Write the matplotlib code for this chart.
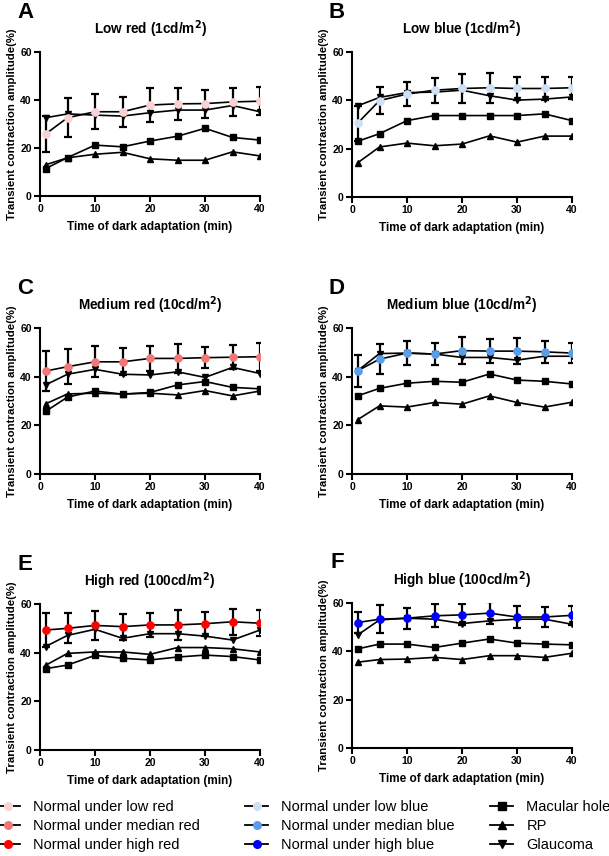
import matplotlib
matplotlib.use("Agg")
import matplotlib.pyplot as plt
from matplotlib.lines import Line2D

plt.rcParams['font.family'] = ['Liberation Sans', 'DejaVu Sans']

time = [1, 5, 10, 15, 20, 25, 30, 35, 40]

# Panel A: Low red
A_normal = [25.8, 32.6, 35.1, 35.1, 37.9, 38.4, 38.5, 39.2, 39.5]
A_sd = [7.4, 8.2, 7.3, 6.3, 6.9, 6.7, 5.8, 5.7, 5.8]
A_macular = [11.4, 16.0, 21.2, 20.5, 22.9, 24.9, 28.2, 24.4, 23.3]
A_rp = [13.0, 15.9, 17.4, 18.2, 15.5, 14.9, 14.9, 18.4, 16.7]
A_glaucoma = [32.6, 34.2, 33.7, 33.3, 34.7, 35.8, 35.8, 37.7, 35.1]

# Panel B: Low blue
B_normal = [30.5, 39.9, 42.6, 44.2, 44.9, 45.2, 44.9, 44.9, 45.2]
B_sd = [7.2, 5.6, 5.1, 5.1, 5.8, 6.2, 4.8, 4.6, 4.5]
B_macular = [23.0, 26.2, 31.6, 33.7, 33.7, 33.7, 33.7, 34.4, 31.6]
B_rp = [14.1, 20.7, 22.3, 21.2, 21.9, 25.3, 22.7, 25.2, 25.2]
B_glaucoma = [37.7, 41.2, 43.2, 43.4, 44.2, 41.9, 40.1, 40.5, 41.4]

# Panel C: Medium red
C_normal = [42.3, 44.1, 46.1, 46.1, 47.5, 47.5, 47.8, 48.0, 48.2]
C_sd = [8.2, 7.2, 6.4, 5.5, 5.0, 6.1, 4.4, 4.9, 5.8]
C_macular = [25.7, 31.6, 34.1, 32.8, 33.5, 36.6, 38.0, 35.6, 35.0]
C_rp = [28.8, 32.9, 33.2, 32.9, 33.2, 32.5, 34.3, 32.1, 34.1]
C_glaucoma = [36.6, 41.0, 43.0, 41.0, 40.7, 42.0, 39.7, 43.8, 41.3]

# Panel D: Medium blue
D_normal = [42.4, 47.2, 49.7, 49.3, 50.7, 50.5, 50.5, 50.2, 49.7]
D_sd = [6.7, 6.1, 5.0, 4.6, 5.4, 4.9, 5.4, 4.6, 4.2]
D_macular = [32.1, 35.2, 37.3, 38.1, 37.7, 41.1, 38.6, 38.1, 37.0]
D_rp = [22.3, 28.0, 27.5, 29.4, 28.7, 32.1, 29.4, 27.5, 29.5]
D_glaucoma = [42.4, 49.5, 49.7, 49.3, 47.9, 47.9, 46.8, 48.4, 48.4]

# Panel E: High red
E_normal = [49.3, 50.0, 51.2, 50.7, 51.4, 51.4, 51.9, 52.7, 52.1]
E_sd = [6.9, 6.2, 5.9, 5.3, 5.0, 6.0, 4.9, 5.4, 5.3]
E_macular = [33.4, 34.9, 38.9, 37.7, 37.0, 38.2, 39.0, 38.4, 37.0]
E_rp = [34.8, 39.7, 40.3, 40.3, 39.3, 42.1, 42.1, 41.6, 40.3]
E_glaucoma = [42.5, 47.1, 49.6, 45.9, 47.8, 47.8, 46.8, 45.2, 49.3]

# Panel F: High blue
F_normal = [51.9, 53.3, 53.7, 54.7, 55.1, 55.8, 54.2, 54.2, 54.9]
F_sd = [4.5, 5.9, 4.4, 4.8, 4.4, 4.6, 4.6, 4.2, 3.9]
F_macular = [41.0, 43.0, 43.0, 41.6, 43.4, 45.1, 43.4, 43.0, 42.7]
F_rp = [35.5, 36.6, 36.8, 37.5, 36.6, 38.2, 38.2, 37.5, 39.2]
F_glaucoma = [46.7, 53.0, 53.7, 53.3, 51.5, 52.6, 53.3, 53.3, 51.2]

panel_letters = ["A", "B", "C", "D", "E", "F"]
panel_titles = [r"Low red (1cd/m$^{\mathbf{2}}$)", r"Low blue (1cd/m$^{\mathbf{2}}$)",
                r"Medium red (10cd/m$^{\mathbf{2}}$)", r"Medium blue (10cd/m$^{\mathbf{2}}$)",
                r"High red (100cd/m$^{\mathbf{2}}$)", r"High blue (100cd/m$^{\mathbf{2}}$)"]
normal_colors = ["#F9D3D3", "#CFE0F4", "#F27878", "#5A9EEA", "#FF0000", "#0000FF"]
legend_normal = ["Normal under low red", "Normal under median red", "Normal under high red",
                 "Normal under low blue", "Normal under median blue", "Normal under high blue"]
legend_red_colors = ["#F9D3D3", "#F27878", "#FF0000"]
legend_blue_colors = ["#CFE0F4", "#5A9EEA", "#0000FF"]
patient_labels = ["Macular hole", "RP", "Glaucoma"]
patient_markers = ["s", "^", "v"]

panels = [
    (A_normal, A_sd, A_macular, A_rp, A_glaucoma),
    (B_normal, B_sd, B_macular, B_rp, B_glaucoma),
    (C_normal, C_sd, C_macular, C_rp, C_glaucoma),
    (D_normal, D_sd, D_macular, D_rp, D_glaucoma),
    (E_normal, E_sd, E_macular, E_rp, E_glaucoma),
    (F_normal, F_sd, F_macular, F_rp, F_glaucoma),
]

W, H = 609, 856
fig = plt.figure(figsize=(W / 100, H / 100), dpi=100)

# pixel boxes: (left, top, right, bottom)
boxes = [(40, 52, 260, 196), (352, 52, 572, 197),
         (40, 328, 260, 474), (352, 328, 572, 474),
         (40, 604, 260, 750), (352, 603, 572, 748)]

for i, (data, box) in enumerate(zip(panels, boxes)):
    normal, sd, mac, rp, gl = data
    l, t, r, b = box
    ax = fig.add_axes([l / W, 1 - b / H, (r - l) / W, (b - t) / H])
    ax.errorbar(time, normal, yerr=sd, fmt='none', ecolor='black', elinewidth=1.6,
                capsize=3, capthick=1.6, zorder=2)
    ax.plot(time, gl, color='black', lw=1.2, marker='v', ms=4.8, mfc='black', mec='black', zorder=3)
    ax.plot(time, mac, color='black', lw=1.2, marker='s', ms=4.5, mfc='black', mec='black', zorder=3)
    ax.plot(time, rp, color='black', lw=1.2, marker='^', ms=4.8, mfc='black', mec='black', zorder=3)
    ax.plot(time, normal, color='black', lw=1.2, marker='o', ms=5.2, mfc=normal_colors[i],
            mec=normal_colors[i], zorder=4)
    ax.set_xlim(0, 40)
    ax.set_ylim(0, 60)
    ax.set_xticks([0, 10, 20, 30, 40])
    ax.set_yticks([0, 20, 40, 60])
    for s in ['top', 'right']:
        ax.spines[s].set_visible(False)
    for s in ['left', 'bottom']:
        ax.spines[s].set_linewidth(1.5)
    ax.tick_params(direction='out', length=4, width=1.5, labelsize=7.5, pad=2)
    for lab in ax.get_xticklabels() + ax.get_yticklabels():
        lab.set_fontweight('bold')
    ax.set_xlabel("Time of dark adaptation (min)", fontsize=8.5, fontweight='bold', labelpad=5)
    ax.set_ylabel("Transient contraction amplitude(%)", fontsize=8.2, fontweight='bold', labelpad=2)
    ax.set_title(panel_titles[i], fontsize=9.8, fontweight='bold', pad=13)
    fig.text((l - 15) / W, 1 - (t - 40) / H, panel_letters[i], fontsize=16, fontweight='bold',
             ha='center', va='center')

def make_handles(colors, labels, marker_list=None):
    hs = []
    for k, lab in enumerate(labels):
        if marker_list is None:
            hs.append(Line2D([], [], color='black', lw=1.3, marker='o', ms=5.5,
                             mfc=colors[k], mec=colors[k], label=lab))
        else:
            hs.append(Line2D([], [], color='black', lw=1.3, marker=marker_list[k], ms=5.5,
                             mfc='black', mec='black', label=lab))
    return hs

leg_kw = dict(loc='upper left', frameon=False, fontsize=10.5, handlelength=1.6,
              handletextpad=0.9, labelspacing=0.35, borderpad=0, borderaxespad=0)
fig.legend(handles=make_handles(legend_red_colors, legend_normal[:3]),
           bbox_to_anchor=(-0.006, 1 - 800 / H), **leg_kw)
fig.legend(handles=make_handles(legend_blue_colors, legend_normal[3:]),
           bbox_to_anchor=(245 / W, 1 - 800 / H), **leg_kw)
fig.legend(handles=make_handles(None, patient_labels, patient_markers),
           bbox_to_anchor=(490 / W, 1 - 800 / H), **leg_kw)

fig.savefig("out.png", dpi=100, facecolor='white')
